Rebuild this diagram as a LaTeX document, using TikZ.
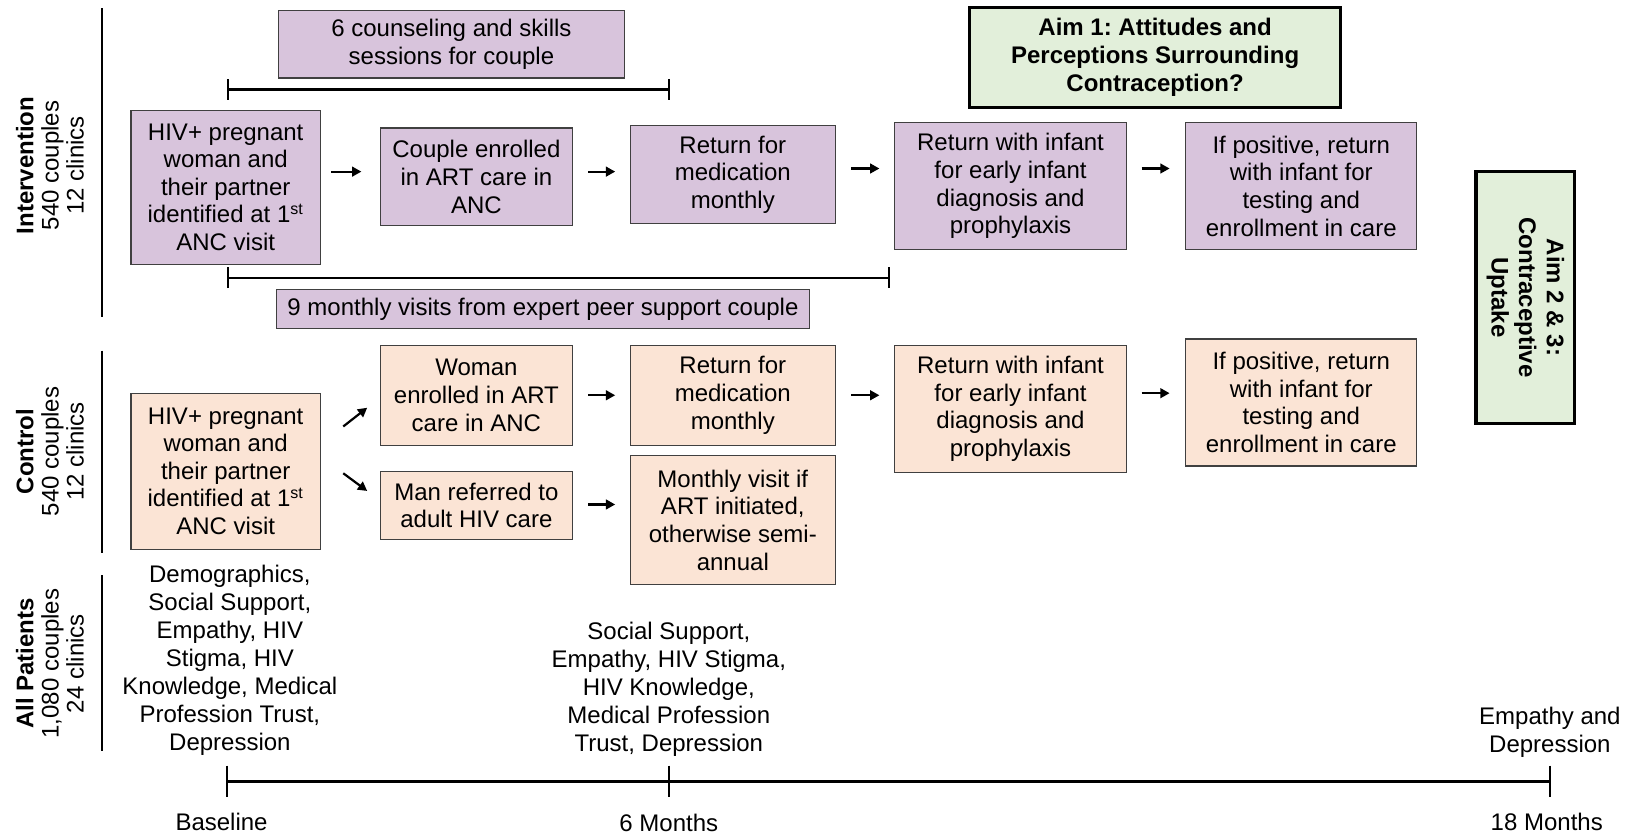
\documentclass[tikz,border=0pt]{standalone}
\usepackage{fontspec}
\setmainfont{Liberation Sans}
\usetikzlibrary{arrows.meta,calc}
\frenchspacing

\newlength\pu
\setlength\pu{0.52pt}

\definecolor{lav}{HTML}{D8C4DC}
\definecolor{peach}{HTML}{FBE4D5}
\definecolor{mint}{HTML}{E2EFDA}

\tikzset{
  txt/.style={align=center, inner sep=0pt, font=\fontsize{12}{13.8}\selectfont},
  bx/.style n args={2}{txt, draw=black!75, line width=0.6pt,
    minimum width=#1*\pu, minimum height=#2*\pu},
  ibox/.style n args={2}{bx={#1}{#2}, fill=lav},
  cbox/.style n args={2}{bx={#1}{#2}, fill=peach},
  aimbox/.style n args={2}{txt, draw=black, line width=1.6pt, fill=mint,
    minimum width=#1*\pu, minimum height=#2*\pu,
    font=\fontsize{12}{13.8}\selectfont\bfseries},
  flow/.style={line width=1.1pt, -{Triangle[length=4.6pt,width=4.8pt]}},
  span/.style={line width=1.1pt, {Bar[width=10.5pt]}-{Bar[width=10.5pt]}},
  sep/.style={line width=1pt},
  side/.style={txt, rotate=90, font=\fontsize{12}{12.6}\selectfont},
  measure/.style={txt, font=\fontsize{12}{14}\selectfont},
}

\begin{document}
\begin{tikzpicture}[x=\pu, y=-\pu]
\useasboundingbox (0,0) rectangle (1568,803);

% group labels and separators
\node[side] (gI) at (48,159) {\textbf{Intervention}\\540 couples\\12 clinics};
\node[side] (gC) at (48,434) {\textbf{Control}\\540 couples\\12 clinics};
\node[side] (gA) at (48,638) {\textbf{All Patients}\\1,080 couples\\24 clinics};
\coordinate (s1a) at (98,8);   \coordinate (s1b) at (98,305);
\coordinate (s2a) at (98,337); \coordinate (s2b) at (98,532);
\coordinate (s3a) at (98,553); \coordinate (s3b) at (98,722);
\draw[sep] (s1a) -- (s1b);
\draw[sep] (s2a) -- (s2b);
\draw[sep] (s3a) -- (s3b);

% intervention arm
\node[ibox={332}{65}] (A0) at (434,42.5) {6 counseling and skills\\sessions for couple};
\node[ibox={182}{148}] (A1) at (217,180) {HIV+ pregnant\\woman and\\their partner\\identified at 1\textsuperscript{st}\\ANC visit};
\node[ibox={184}{94}] (A2) at (458,170) {Couple enrolled\\in ART care in\\ANC};
\node[ibox={197}{94}] (A3) at (704.5,168) {Return for\\medication\\monthly};
\node[ibox={223}{122}] (A4) at (971.5,179) {Return with infant\\for early infant\\diagnosis and\\prophylaxis};
\node[ibox={222}{122}] (A5) at (1251,179) {If positive, return\\with infant for\\testing and\\enrollment in care};
\node[ibox={512}{38}] (A6) at (522,297) {9 monthly visits from expert peer support couple};

\coordinate (b1a) at (218,86);  \coordinate (b1b) at (644,86);
\coordinate (b2a) at (218,267); \coordinate (b2b) at (856,267);
\draw[span] (b1a) -- (b1b);
\draw[span] (b2a) -- (b2b);

\coordinate (rowA) at (0,165);
\coordinate (rowA2) at (0,162);
\draw[flow, shorten <=10\pu, shorten >=18\pu] (A1.east |- rowA) -- (A2.west |- rowA);
\draw[flow, shorten <=15\pu, shorten >=14\pu] (A2.east |- rowA) -- (A3.west |- rowA);
\draw[flow, shorten <=15\pu, shorten >=14\pu] (A3.east |- rowA2) -- (A4.west |- rowA2);
\draw[flow, shorten <=14\pu, shorten >=15\pu] (A4.east |- rowA2) -- (A5.west |- rowA2);

% aims
\node[aimbox={357}{96}] (aim1) at (1110.5,55) {Aim 1: Attitudes and\\Perceptions Surrounding\\Contraception?};
\node[aimbox={95}{242}] (aim2) at (1466.5,286) {};
\node[txt, rotate=-90, font=\fontsize{12}{13.8}\selectfont\bfseries] (aim2t) at (aim2.center) {Aim 2 \& 3:\\Contraceptive\\Uptake};

% control arm
\node[cbox={182}{150}] (B1) at (217,453) {HIV+ pregnant\\woman and\\their partner\\identified at 1\textsuperscript{st}\\ANC visit};
\node[cbox={184}{96}] (B2) at (458,380) {Woman\\enrolled in ART\\care in ANC};
\node[cbox={184}{66}] (B3) at (458,486) {Man referred to\\adult HIV care};
\node[cbox={197}{96}] (B4) at (704.5,380) {Return for\\medication\\monthly};
\node[cbox={197}{124}] (B5) at (704.5,500) {Monthly visit if\\ART initiated,\\otherwise semi-\\annual};
\node[cbox={223}{122}] (B6) at (971.5,393) {Return with infant\\for early infant\\diagnosis and\\prophylaxis};
\node[cbox={222}{122}] (B7) at (1251,387) {If positive, return\\with infant for\\testing and\\enrollment in care};

\coordinate (d1s) at (330,410); \coordinate (d1e) at (353,392);
\coordinate (d2s) at (330,455); \coordinate (d2e) at (353,472);
\draw[flow] (d1s) -- (d1e);
\draw[flow] (d2s) -- (d2e);

\coordinate (rowB) at (0,380);
\coordinate (rowB2) at (0,378);
\coordinate (rowC) at (0,485);
\draw[flow, shorten <=15\pu, shorten >=14\pu] (B2.east |- rowB) -- (B4.west |- rowB);
\draw[flow, shorten <=15\pu, shorten >=14\pu] (B3.east |- rowC) -- (B5.west |- rowC);
\draw[flow, shorten <=15\pu, shorten >=14\pu] (B4.east |- rowB) -- (B6.west |- rowB);
\draw[flow, shorten <=14\pu, shorten >=15\pu] (B6.east |- rowB2) -- (B7.west |- rowB2);

% measures collected at each time point
\node[measure] (m0) at (221,635) {Demographics,\\Social Support,\\Empathy, HIV\\Stigma, HIV\\Knowledge, Medical\\Profession Trust,\\Depression};
\node[measure] (m6) at (643,662.5) {Social Support,\\Empathy, HIV Stigma,\\HIV Knowledge,\\Medical Profession\\Trust, Depression};
\node[measure] (m18) at (1490,704) {Empathy and\\Depression};

% timeline
\coordinate (t0) at (218,751);
\coordinate (t6) at (643,751);
\coordinate (t18) at (1490,751);
\draw[line width=1.6pt] (t0) -- (t18);
\foreach \p in {t0,t6,t18}
  \draw[line width=1.1pt] ($(\p)+(0,-15)$) -- ($(\p)+(0,15)$);
\node[measure] (l0) at (213,790) {Baseline};
\node[measure] (l6) at (643,791) {6 Months};
\node[measure] (l18) at (1487,790) {18 Months};
\end{tikzpicture}
\end{document}
